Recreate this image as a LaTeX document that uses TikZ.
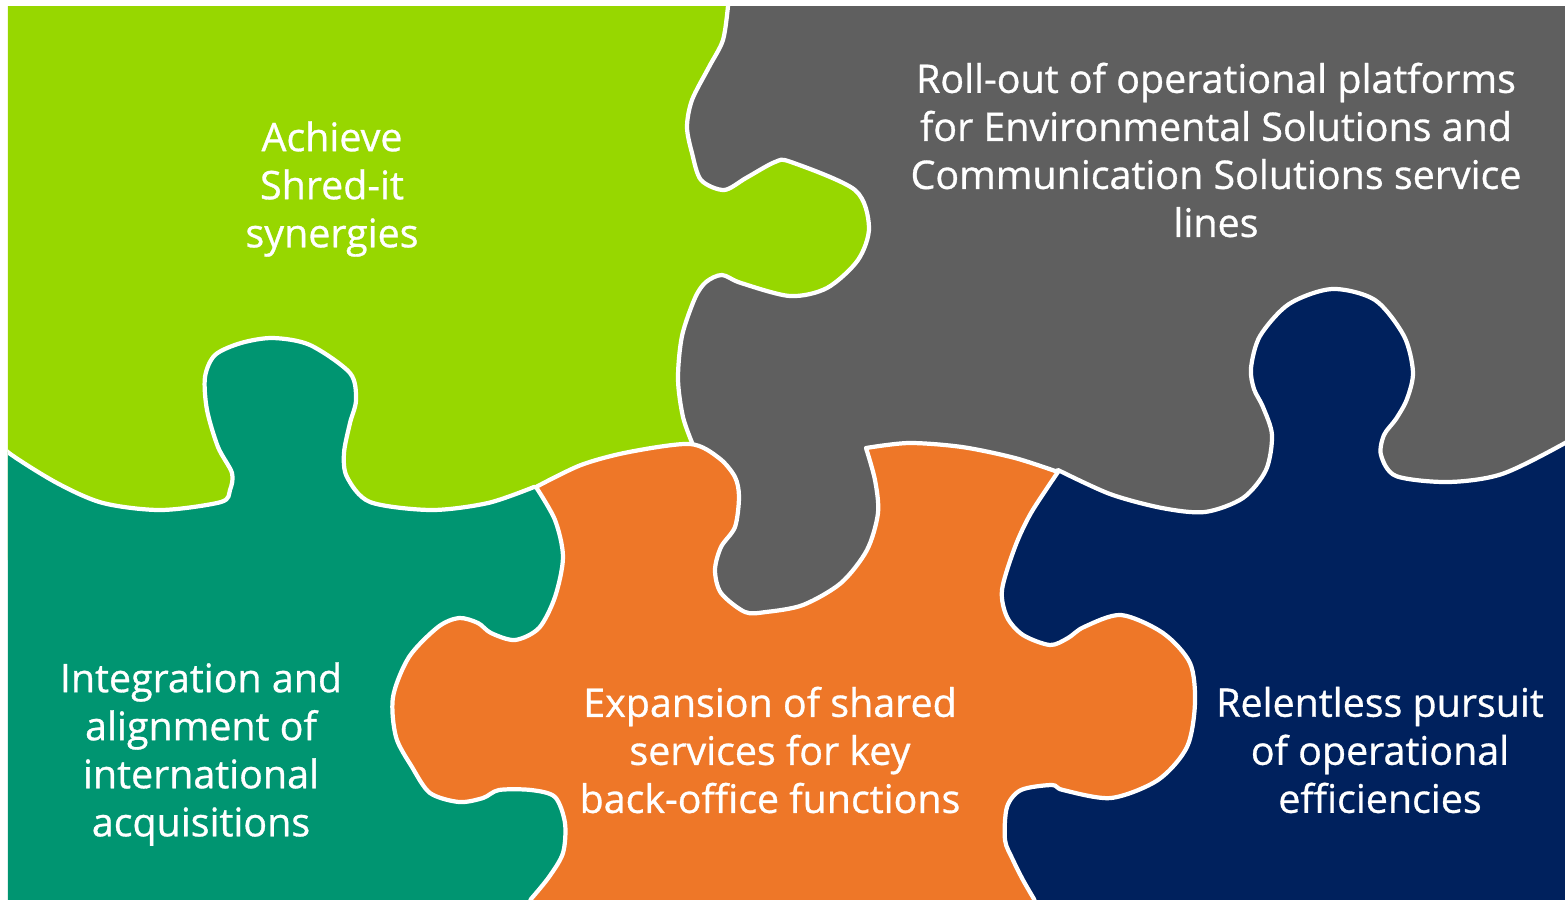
\documentclass[tikz,border=0pt]{standalone}
\usepackage{fontspec}
\setmainfont{Open Sans}
\newfontfamily\goalfont{Open Sans}[FakeBold=0.8]
\definecolor{shredgreen}{RGB}{151,215,0}
\definecolor{shredgray}{RGB}{95,95,95}
\definecolor{shredteal}{RGB}{0,149,113}
\definecolor{shredorange}{RGB}{238,119,40}
\definecolor{shrednavy}{RGB}{0,33,93}
\tikzset{piece/.style={draw=white,line width=1.2pt,line join=round},
  goal/.style={text=white,align=center,inner sep=0pt,font=\goalfont\fontsize{11.2}{13.66}\selectfont}}

\begin{document}
\begin{tikzpicture}[x=0.01cm,y=-0.01cm]
		\useasboundingbox (0,0) rectangle (1565,899);
		\clip (8,6) rectangle (1565,899);
		%Fill
		\fill[shredgray] (8,6) rectangle (1565,899);
		%Pieces
		\filldraw[piece,fill=shredgreen] (-20,-20) -- (728,-20) -- plot[smooth] coordinates {(728,6) (723,40) (709,67) (692,100) (687,127) (692,153) (701,180) (724,190) (746,178) (775,162) (791,162) (855,190) (869,227) (858,260) (827,288) (790,296) (741,283) (722,275) (706,282) (695,298) (682,336) (678,379) (683,417) (693,445)} -- (700,560) -- (-20,560) -- cycle;
		\filldraw[piece,fill=shredteal] plot[smooth] coordinates {(-5,437) (9,453) (57,483) (103,503) (161,510) (221,502) (230,490) (232,473) (218,447) (207,410) (205,377) (215,355) (241,343) (273,338) (310,345) (350,373) (356,400) (350,423) (344,453) (347,477) (370,502) (431,510) (488,503) (534,487)} -- (620,500) -- (620,920) -- (-20,920) -- (-20,437) -- cycle;
		\filldraw[piece,fill=shrednavy] (990,920) -- (990,560) -- (1000,520) -- plot[smooth] coordinates {(1058,470) (1110,494) (1162,508) (1205,512) (1243,498) (1266,470) (1272,435) (1263,407) (1254,389) (1251,368) (1260,336) (1289,304) (1332,289) (1375,300) (1404,336) (1413,372) (1407,399) (1396,419) (1384,435) (1381,455) (1396,476) (1448,482) (1502,474) (1565,443) (1590,425)} -- (1600,920) -- cycle;
		\filldraw[piece,fill=shredorange] (522,920) -- plot[smooth] coordinates {(531,899) (549,877) (563,853) (565,823) (555,797) (531,790) (499,790) (483,798) (459,802) (430,793) (412,767) (396,737) (393,697) (409,657) (438,627) (459,618) (478,623) (491,633) (515,640) (539,628) (555,597) (563,557) (555,520) (536,487)}
			-- plot[smooth] coordinates {(536,487) (581,465) (629,452) (690,444) (719,458) (735,477) (739,497) (735,527) (721,547) (715,570) (721,593) (745,612) (766,612) (803,605) (841,583) (867,550) (878,513) (875,480) (866,448)}
			-- plot[smooth] coordinates {(866,448) (909,443) (962,447) (1015,458) (1058,472)}
			-- plot[smooth] coordinates {(1058,472) (1031,513) (1015,547) (1002,590) (1007,617) (1023,635) (1050,645) (1068,638) (1084,627) (1121,615) (1163,633) (1190,663) (1195,703) (1187,747) (1158,780) (1111,798) (1063,790) (1052,785) (1021,790) (1007,807) (1005,840) (1013,860) (1023,880) (1034,899)} -- (1041,920) -- cycle;
		%Descriptions
		\node[goal] (shredit) at (332,189) {Achieve\\Shred-it\\synergies};
		\node[goal] (rollout) at (1216,150) {Roll-out of operational platforms\\for Environmental Solutions and\\Communication Solutions service\\lines};
		\node[goal] (integration) at (201,754) {Integration and\\alignment of\\international\\acquisitions};
		\node[goal] (sharedsvc) at (770,750) {Expansion of shared\\services for key\\back-office functions};
		\node[goal] (efficiency) at (1380,750) {Relentless pursuit\\of operational\\efficiencies};
\end{tikzpicture}
\end{document}
